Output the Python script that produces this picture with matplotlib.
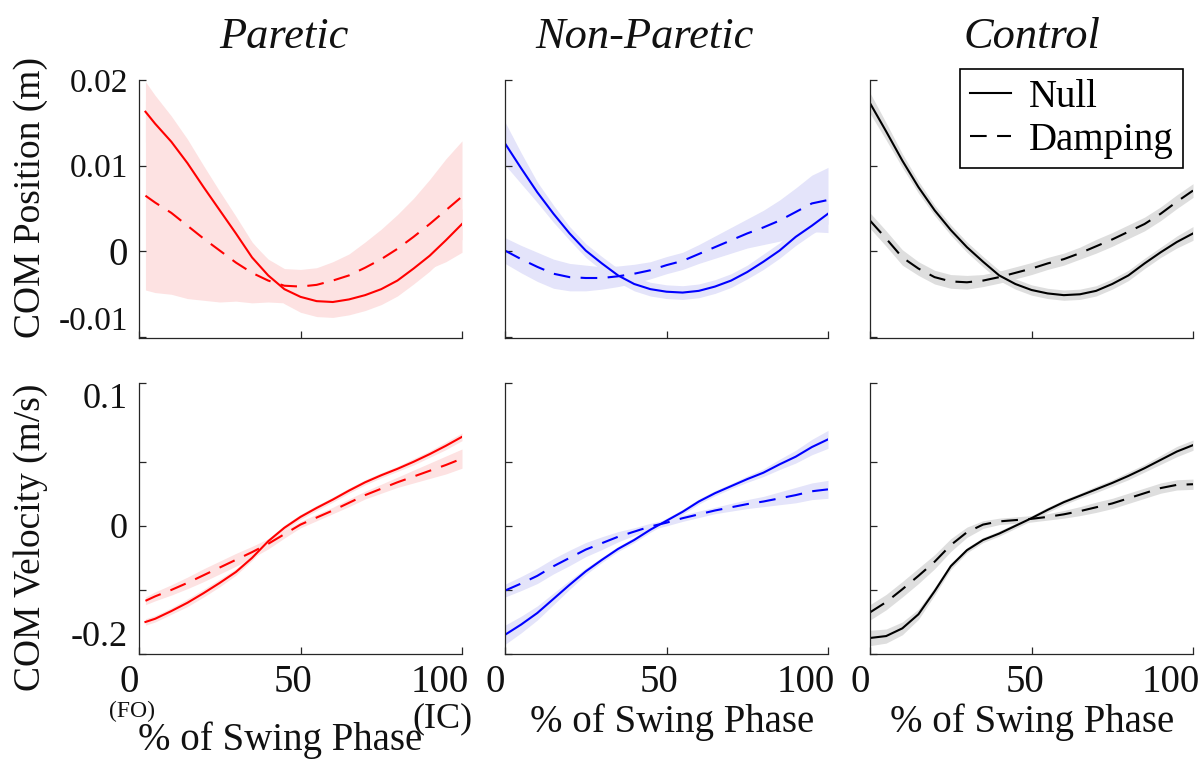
import numpy as np
import matplotlib
matplotlib.use("Agg")
import matplotlib.pyplot as plt
import matplotlib.transforms as mtransforms

plt.rcParams['font.family'] = ['Liberation Serif', 'DejaVu Serif']

# % of swing phase
x_par = np.array([2, 5, 10, 15, 20, 25, 30, 35, 40, 45, 50, 55, 60, 65, 70, 75, 80, 85, 90, 95, 100])
x_oth = np.array([0, 5, 10, 15, 20, 25, 30, 35, 40, 45, 50, 55, 60, 65, 70, 75, 80, 85, 90, 95, 100])

# COM position (m)
pos_par_null = np.array([0.0163, 0.0149, 0.0128, 0.0103, 0.0075, 0.0048, 0.0021, -0.0007, -0.0028, -0.0044, -0.0053,
                         -0.0058, -0.0059, -0.0056, -0.0051, -0.0044, -0.0034, -0.0020, -0.0005, 0.0013, 0.0032])
pos_par_null_sd = np.array([0.0035, 0.0033, 0.003, 0.0028, 0.0025, 0.0022, 0.002, 0.0018, 0.0017, 0.0017, 0.0018,
                            0.0018, 0.0018, 0.0018, 0.0018, 0.0018, 0.0018, 0.0018, 0.0018, 0.0018, 0.0018])
pos_par_damp = np.array([0.0065, 0.0057, 0.0045, 0.0030, 0.0015, 0.0001, -0.0013, -0.0025, -0.0034, -0.0040, -0.0041,
                         -0.0039, -0.0034, -0.0028, -0.0019, -0.0009, 0.0003, 0.0017, 0.0032, 0.0048, 0.0064])
pos_par_damp_sd = np.array([0.011, 0.0105, 0.0095, 0.0085, 0.0072, 0.006, 0.0045, 0.0035, 0.0025, 0.002, 0.002,
                            0.002, 0.0022, 0.0025, 0.003, 0.0035, 0.004, 0.0045, 0.0052, 0.006, 0.0065])

pos_np_null = np.array([0.0126, 0.0097, 0.0069, 0.0044, 0.0021, 0.0001, -0.0014, -0.0028, -0.0038, -0.0044, -0.0047,
                        -0.0048, -0.0046, -0.0041, -0.0034, -0.0024, -0.0012, 0.0001, 0.0017, 0.0030, 0.0044])
pos_np_null_sd = np.array([0.0025, 0.0018, 0.0012, 0.001, 0.0008, 0.0008, 0.0008, 0.0008, 0.0008, 0.0008, 0.0008,
                           0.0008, 0.0008, 0.0008, 0.0008, 0.0008, 0.0009, 0.0009, 0.001, 0.001, 0.0012])
pos_np_damp = np.array([0.0001, -0.0009, -0.0018, -0.0026, -0.0030, -0.0031, -0.0031, -0.0029, -0.0026, -0.0022, -0.0016,
                        -0.0011, -0.0003, 0.0005, 0.0013, 0.0021, 0.0028, 0.0036, 0.0046, 0.0056, 0.0060])
pos_np_damp_sd = np.array([0.0015, 0.0016, 0.0017, 0.0017, 0.0016, 0.0015, 0.0013, 0.0012, 0.0011, 0.001, 0.001,
                           0.001, 0.0011, 0.0013, 0.0015, 0.0017, 0.002, 0.0024, 0.0028, 0.0033, 0.0038])

pos_ct_null = np.array([0.0173, 0.0140, 0.0106, 0.0075, 0.0048, 0.0025, 0.0005, -0.0012, -0.0028, -0.0038, -0.0045,
                        -0.0049, -0.0051, -0.0050, -0.0046, -0.0038, -0.0028, -0.0014, -0.0001, 0.0011, 0.0021])
pos_ct_null_sd = np.array([0.0012, 0.001, 0.0008, 0.0007, 0.0006, 0.0006, 0.0006, 0.0006, 0.0006, 0.0006, 0.0006,
                           0.0006, 0.0006, 0.0006, 0.0006, 0.0006, 0.0006, 0.0006, 0.0006, 0.0007, 0.0008])
pos_ct_damp = np.array([0.0036, 0.0015, -0.0007, -0.0020, -0.0030, -0.0035, -0.0036, -0.0034, -0.0030, -0.0025, -0.0020,
                        -0.0014, -0.0009, -0.0002, 0.0006, 0.0014, 0.0023, 0.0032, 0.0044, 0.0058, 0.0071])
pos_ct_damp_sd = np.array([0.0009, 0.0009, 0.0009, 0.0008, 0.0008, 0.0008, 0.0008, 0.0007, 0.0007, 0.0007, 0.0007,
                           0.0007, 0.0007, 0.0007, 0.0008, 0.0008, 0.0008, 0.0008, 0.0008, 0.0008, 0.0008])

# COM velocity (m/s)
vel_par_null = np.array([-0.150, -0.145, -0.133, -0.120, -0.105, -0.089, -0.072, -0.050, -0.024, -0.003, 0.014,
                         0.028, 0.041, 0.055, 0.068, 0.079, 0.089, 0.100, 0.112, 0.125, 0.139])
vel_par_null_sd = np.array([0.005, 0.005, 0.005, 0.006, 0.006, 0.006, 0.005, 0.004, 0.004, 0.004, 0.004,
                            0.004, 0.004, 0.004, 0.004, 0.004, 0.004, 0.005, 0.005, 0.006, 0.006])
vel_par_damp = np.array([-0.117, -0.110, -0.100, -0.089, -0.077, -0.065, -0.053, -0.041, -0.028, -0.013, 0.002,
                         0.013, 0.024, 0.036, 0.048, 0.058, 0.068, 0.077, 0.086, 0.095, 0.105])
vel_par_damp_sd = np.array([0.006, 0.007, 0.008, 0.009, 0.01, 0.01, 0.01, 0.009, 0.008, 0.006, 0.005,
                            0.005, 0.005, 0.006, 0.006, 0.007, 0.008, 0.01, 0.012, 0.014, 0.015])

vel_np_null = np.array([-0.170, -0.154, -0.136, -0.114, -0.092, -0.071, -0.053, -0.036, -0.022, -0.006, 0.008,
                        0.022, 0.038, 0.051, 0.062, 0.073, 0.083, 0.096, 0.108, 0.123, 0.135])
vel_np_null_sd = np.array([0.015, 0.013, 0.011, 0.009, 0.007, 0.005, 0.004, 0.004, 0.004, 0.004, 0.004,
                           0.004, 0.004, 0.004, 0.004, 0.005, 0.006, 0.008, 0.01, 0.012, 0.014])
vel_np_damp = np.array([-0.101, -0.090, -0.078, -0.063, -0.050, -0.037, -0.027, -0.017, -0.009, -0.001, 0.005,
                        0.012, 0.018, 0.024, 0.029, 0.034, 0.038, 0.043, 0.048, 0.054, 0.057])
vel_np_damp_sd = np.array([0.01, 0.011, 0.012, 0.012, 0.012, 0.011, 0.01, 0.008, 0.006, 0.005, 0.005,
                           0.005, 0.005, 0.005, 0.006, 0.007, 0.008, 0.01, 0.012, 0.013, 0.014])

vel_ct_null = np.array([-0.175, -0.172, -0.160, -0.138, -0.102, -0.063, -0.038, -0.022, -0.012, 0.000, 0.012,
                        0.025, 0.037, 0.047, 0.057, 0.067, 0.078, 0.090, 0.103, 0.116, 0.126])
vel_ct_null_sd = np.array([0.012, 0.011, 0.01, 0.008, 0.006, 0.005, 0.004, 0.004, 0.004, 0.004, 0.004,
                           0.004, 0.004, 0.004, 0.005, 0.005, 0.006, 0.006, 0.007, 0.008, 0.008])
vel_ct_damp = np.array([-0.135, -0.119, -0.099, -0.078, -0.056, -0.030, -0.010, 0.002, 0.007, 0.009, 0.011,
                        0.014, 0.018, 0.023, 0.029, 0.035, 0.043, 0.051, 0.059, 0.064, 0.065])
vel_ct_damp_sd = np.array([0.012, 0.012, 0.012, 0.012, 0.011, 0.01, 0.008, 0.006, 0.005, 0.005, 0.005,
                           0.005, 0.006, 0.007, 0.008, 0.008, 0.008, 0.008, 0.008, 0.008, 0.008])

titles = ['Paretic', 'Non-Paretic', 'Control']
line_colors = ['#ff0000', '#0000ff', '#000000']
band_colors = ['#fde2e2', '#e4e4fa', '#dedede']
xs = [x_par, x_oth, x_oth]
pos_data = [(pos_par_null, pos_par_null_sd, pos_par_damp, pos_par_damp_sd),
            (pos_np_null, pos_np_null_sd, pos_np_damp, pos_np_damp_sd),
            (pos_ct_null, pos_ct_null_sd, pos_ct_damp, pos_ct_damp_sd)]
vel_data = [(vel_par_null, vel_par_null_sd, vel_par_damp, vel_par_damp_sd),
            (vel_np_null, vel_np_null_sd, vel_np_damp, vel_np_damp_sd),
            (vel_ct_null, vel_ct_null_sd, vel_ct_damp, vel_ct_damp_sd)]

W, H = 1203, 761
fig = plt.figure(figsize=(W / 100, H / 100), dpi=100)
lefts = [139, 505, 870]
axw = 323
ax_color = '#262626'
txt_color = '#111111'


def style(ax):
    ax.spines[['top', 'right']].set_visible(False)
    for s in ['left', 'bottom']:
        ax.spines[s].set_color(ax_color)
        ax.spines[s].set_linewidth(0.9)
    ax.tick_params(direction='in', length=5, width=0.9, color=ax_color, labelcolor=txt_color)
    ax.set_xlim(0, 100)
    ax.set_xticks([0, 50, 100])


def draw(ax, x, d, col, band):
    nm, ns, dm, ds = d
    ax.fill_between(x, nm - ns, nm + ns, color=band, lw=0)
    ax.fill_between(x, dm - ds, dm + ds, color=band, lw=0)
    l1, = ax.plot(x, nm, color=col, lw=1.5, label='Null')
    l2, = ax.plot(x, dm, color=col, lw=1.5, dashes=(8, 5), label='Damping')
    return l1, l2


for i in range(3):
    # top row: position
    ax = fig.add_axes([lefts[i] / W, 1 - 338 / H, axw / W, 258 / H])
    style(ax)
    handles = draw(ax, xs[i], pos_data[i], line_colors[i], band_colors[i])
    ax.set_ylim(-0.0101, 0.02)
    ax.set_yticks([-0.01, 0, 0.01, 0.02])
    ax.set_xticklabels([])
    if i == 0:
        ax.set_yticklabels(['-0.01', '0', '0.01', '0.02'])
        ax.tick_params(axis='y', labelsize=24, pad=8)
        ax.get_yticklabels()[0].set_va('bottom')
        ax.get_yticklabels()[1].set_fontsize(28)
        ax.set_ylabel('COM Position (m)', fontsize=27, color=txt_color)
        ax.yaxis.label.set_va('center')
        ax.yaxis.set_label_coords(31 / W, 1 - 197 / H, transform=fig.transFigure)
    else:
        ax.set_yticklabels([])
    if i == 2:
        leg = ax.legend(handles=handles, loc='upper right', bbox_to_anchor=(1183 / W, 1 - 69 / H),
                        bbox_transform=fig.transFigure, fontsize=28, frameon=True, fancybox=False,
                        edgecolor='black', handlelength=1.05, handletextpad=0.45, labelspacing=0.15,
                        borderpad=0.25, borderaxespad=0, framealpha=1)
        leg.get_frame().set_linewidth(1.2)

    # bottom row: velocity
    ax = fig.add_axes([lefts[i] / W, 1 - 654 / H, axw / W, 271 / H])
    style(ax)
    draw(ax, xs[i], vel_data[i], line_colors[i], band_colors[i])
    ax.set_ylim(-0.2, 0.223)
    ax.set_yticks([-0.2, -0.1, 0, 0.1, 0.223])
    ax.set_xticklabels(['0', '50', '100'])
    ax.tick_params(axis='x', labelsize=28, pad=7)
    offs = [-10, -7, -22]
    for lab, o in zip(ax.get_xticklabels(), offs):
        lab.set_transform(lab.get_transform() + mtransforms.ScaledTranslation(o / 100, 0, fig.dpi_scale_trans))
    if i == 0:
        ax.set_yticklabels(['-0.2', '', '0', '', '0.1'])
        ax.tick_params(axis='y', labelsize=26, pad=8)
        ylabs = ax.get_yticklabels()
        ylabs[0].set_va('bottom')
        ylabs[4].set_va('top')
        ax.set_ylabel('COM Velocity (m/s)', fontsize=27, color=txt_color)
        ax.yaxis.label.set_va('center')
        ax.yaxis.set_label_coords(31 / W, 1 - 537 / H, transform=fig.transFigure)
    else:
        ax.set_yticklabels([])

# column titles
title_x = [284, 645, 1032]
for t, tx in zip(titles, title_x):
    fig.text(tx / W, 1 - 37 / H, t, fontsize=32, style='italic', ha='center', va='center', color=txt_color)

# x axis labels
fig.text(280 / W, 1 - 740 / H, '% of Swing Phase', fontsize=28, ha='center', va='center', color=txt_color)
fig.text(672 / W, 1 - 722 / H, '% of Swing Phase', fontsize=28, ha='center', va='center', color=txt_color)
fig.text(1032 / W, 1 - 722 / H, '% of Swing Phase', fontsize=28, ha='center', va='center', color=txt_color)
fig.text(132 / W, 1 - 711 / H, '(FO)', fontsize=17, ha='center', va='center', color=txt_color)
fig.text(442 / W, 1 - 719 / H, '(IC)', fontsize=26, ha='center', va='center', color=txt_color)

fig.savefig('out.png', dpi=100)
